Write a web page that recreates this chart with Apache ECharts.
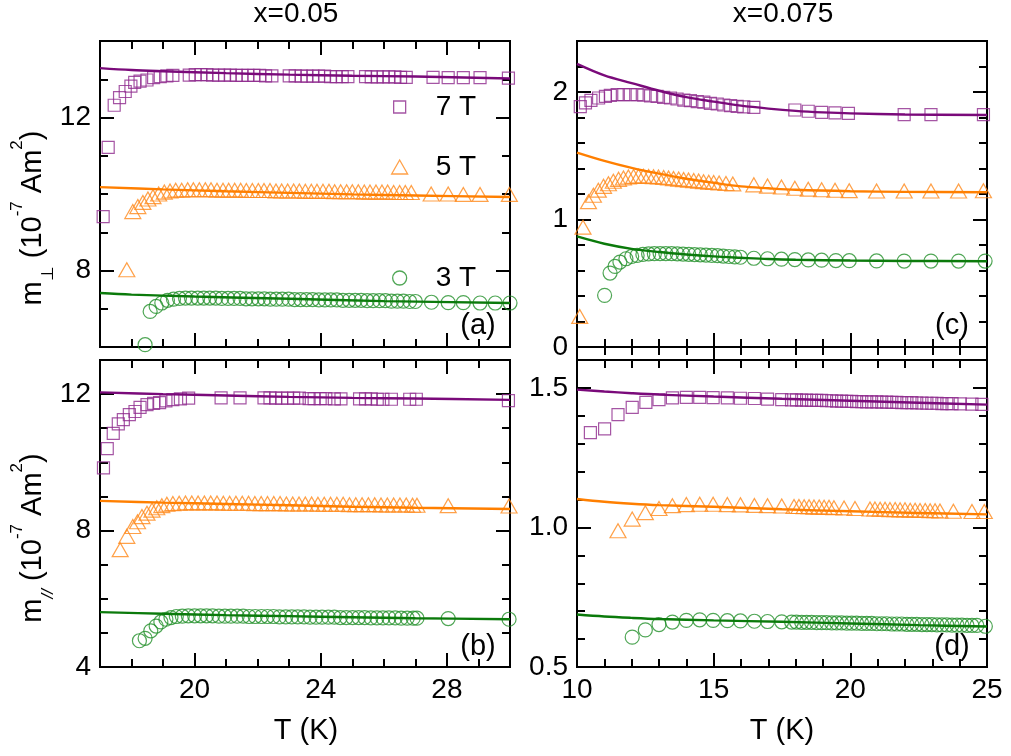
<!DOCTYPE html>
<html><head><meta charset="utf-8">
<script src="https://cdn.jsdelivr.net/npm/echarts@6/dist/echarts.min.js"></script>
<style>html,body{margin:0;padding:0;background:#fff}#c{width:1011px;height:756px}</style>
</head><body><div id="c"></div>
<script>
// ---------- tick labels ----------
const xTicksAB = [20, 24, 28];
const xTicksCD = [10, 15, 20, 25];
const yTicksA = [8, 12];
const yTicksB = [4, 8, 12];
const yTicksC = [0, 1, 2];
const yTicksD = [0.5, 1.0, 1.5];
const titles = ['x=0.05', 'x=0.075'];
const panelLabels = ['(a)', '(b)', '(c)', '(d)'];
const fieldNames = ['7 T', '5 T', '3 T'];

// ---------- panel (a): m_perp, x=0.05 ----------
const a7 = [[17.10,9.41],[17.26,11.22],[17.45,12.32],[17.62,12.52],[17.80,12.68],[17.98,12.82],[18.10,12.92],[18.27,12.95],[18.49,12.98],[18.70,13.04],[18.91,13.07],[19.12,13.09],[19.31,13.10],
[19.83,13.11],[20.02,13.12],[20.20,13.12],[20.39,13.12],[20.57,13.11],[20.76,13.11],[20.95,13.11],[21.13,13.11],[21.32,13.10],[21.50,13.10],[21.69,13.10],[21.88,13.10],[22.06,13.10],[22.25,13.09],[22.45,13.09],
[23.00,13.09],[23.19,13.09],[23.38,13.08],[23.56,13.08],[23.75,13.08],[23.93,13.08],[24.12,13.08],[24.31,13.07],[24.49,13.07],[24.68,13.07],[24.86,13.07],
[25.42,13.07],[25.60,13.06],[25.79,13.06],[25.98,13.06],[26.16,13.06],[26.35,13.06],[26.53,13.05],[26.71,13.05],
[27.56,13.05],[28.04,13.04],[28.52,13.04],[29.05,13.04],[29.95,13.03]];
const a7fit = [[17,13.29],[18,13.24],[19,13.21],[21,13.16],[23,13.12],[25,13.09],[27,13.07],[30,13.02]];
const a5 = [[17.85,8.02],[18.04,9.54],[18.20,9.67],[18.36,9.78],[18.52,9.87],[18.68,9.93],[18.86,10.00],[19.04,10.05],
[19.22,10.08],[19.40,10.10],[19.59,10.10],[19.78,10.11],[19.96,10.11],[20.15,10.11],[20.34,10.11],[20.52,10.11],[20.71,10.10],[20.90,10.10],[21.08,10.10],[21.27,10.10],[21.46,10.10],[21.64,10.09],[21.83,10.09],[22.02,10.09],[22.20,10.09],[22.39,10.09],[22.58,10.08],[22.76,10.08],[22.95,10.08],[23.14,10.08],[23.32,10.08],[23.51,10.07],[23.70,10.07],[23.88,10.07],[24.07,10.07],[24.26,10.07],[24.44,10.06],[24.63,10.06],[24.82,10.06],[25.00,10.06],[25.19,10.06],[25.38,10.05],[25.56,10.05],[25.75,10.05],[25.94,10.05],[26.12,10.05],[26.31,10.04],[26.50,10.04],[26.68,10.04],[26.87,10.04],
[27.50,10.00],[28.04,10.00],[28.52,9.99],[29.05,9.99],[29.98,9.99]];
const a5fit = [[17,10.18],[19,10.12],[21,10.07],[23,10.03],[25,9.99],[27,9.96],[30,9.92]];
const a3 = [[18.43,6.06],[18.59,6.93],[18.78,7.06],[18.96,7.15],[19.14,7.22],[19.33,7.25],
[19.52,7.27],[19.71,7.28],[19.90,7.28],[20.10,7.28],[20.29,7.28],[20.48,7.28],[20.67,7.28],[20.86,7.27],[21.06,7.27],[21.25,7.27],[21.44,7.27],[21.63,7.26],[21.82,7.26],[22.02,7.26],[22.21,7.26],[22.40,7.25],[22.59,7.25],[22.78,7.25],[22.98,7.25],[23.17,7.24],[23.36,7.24],[23.55,7.24],[23.74,7.24],[23.94,7.23],[24.13,7.23],[24.32,7.23],[24.51,7.23],[24.70,7.22],[24.90,7.22],[25.09,7.22],[25.28,7.22],[25.47,7.21],[25.66,7.21],[25.86,7.21],[26.05,7.21],[26.24,7.20],[26.43,7.20],[26.62,7.20],[26.82,7.19],[27.00,7.19],
[27.51,7.17],[28.04,7.16],[28.52,7.16],[29.05,7.15],[29.53,7.15],[30.00,7.15]];
const a3fit = [[17,7.41],[18,7.37],[20,7.32],[23,7.26],[26,7.20],[30,7.15]];

// ---------- panel (b): m_par, x=0.05 ----------
const b7 = [[17.11,9.84],[17.23,10.40],[17.42,10.85],[17.58,11.13],[17.74,11.25],[17.93,11.40],[18.11,11.49],[18.27,11.61],[18.49,11.69],[18.70,11.73],[18.89,11.75],[19.09,11.80],[19.31,11.84],[19.55,11.86],[19.81,11.88],
[20.84,11.89],[21.44,11.89],
[22.20,11.89],[22.39,11.89],[22.57,11.88],[22.76,11.88],[22.95,11.88],[23.14,11.88],[23.32,11.88],
[23.63,11.87],[23.79,11.87],[23.98,11.87],[24.16,11.87],[24.43,11.86],[24.64,11.86],
[25.23,11.86],[25.42,11.86],[25.60,11.86],[25.79,11.85],[25.97,11.85],[26.24,11.85],
[26.82,11.85],[27.03,11.85],[29.95,11.81]];
const b7fit = [[17,12.05],[19,12.00],[21,11.96],[23,11.92],[25,11.89],[27,11.87],[30,11.83]];
const b5 = [[17.64,7.44],[17.85,7.83],[18.04,8.12],[18.19,8.26],[18.33,8.41],[18.49,8.51],[18.65,8.60],[18.80,8.67],[18.96,8.73],[19.12,8.77],
[19.31,8.79],[19.51,8.80],[19.71,8.81],[19.91,8.81],[20.11,8.81],[20.31,8.81],[20.51,8.81],[20.71,8.81],[20.91,8.80],[21.11,8.80],[21.31,8.80],[21.51,8.80],[21.71,8.80],[21.91,8.79],[22.11,8.79],[22.31,8.79],[22.51,8.79],[22.71,8.79],[22.91,8.78],[23.11,8.78],[23.31,8.78],[23.51,8.78],[23.71,8.78],[23.91,8.77],[24.11,8.77],[24.31,8.77],[24.51,8.77],[24.71,8.77],[24.91,8.76],[25.11,8.76],[25.31,8.76],[25.51,8.76],[25.71,8.76],[25.91,8.75],[26.11,8.75],[26.31,8.75],[26.51,8.75],[26.71,8.75],[26.91,8.74],[27.05,8.74],
[28.04,8.73],[29.97,8.72]];
const b5fit = [[17,8.87],[19,8.82],[21,8.78],[23,8.74],[25,8.70],[27,8.67],[30,8.63]];
const b3 = [[18.25,4.77],[18.43,4.84],[18.61,5.06],[18.78,5.20],[18.93,5.32],[19.09,5.40],[19.25,5.45],[19.42,5.48],
[19.61,5.49],[19.80,5.50],[20.00,5.50],[20.19,5.50],[20.38,5.50],[20.57,5.50],[20.77,5.49],[20.96,5.49],[21.15,5.49],[21.35,5.49],[21.54,5.49],[21.73,5.48],[21.92,5.48],[22.12,5.48],[22.31,5.48],[22.50,5.48],[22.69,5.47],[22.89,5.47],[23.08,5.47],[23.27,5.47],[23.47,5.47],[23.66,5.46],[23.85,5.46],[24.04,5.46],[24.24,5.46],[24.43,5.46],[24.62,5.45],[24.81,5.45],[25.01,5.45],[25.20,5.45],[25.39,5.45],[25.59,5.44],[25.78,5.44],[25.97,5.44],[26.16,5.44],[26.36,5.44],[26.55,5.43],[26.74,5.43],[26.93,5.43],[27.05,5.43],
[28.04,5.42],[29.97,5.40]];
const b3fit = [[17,5.61],[19,5.56],[21,5.52],[23,5.49],[25,5.46],[27,5.43],[30,5.40]];

// ---------- panel (c): m_perp, x=0.075 ----------
const c7 = [[10.12,1.885],[10.31,1.915],[10.51,1.935],[10.79,1.953],[11.04,1.966],[11.22,1.973],[11.47,1.979],[11.71,1.980],[11.95,1.980],[12.20,1.980],[12.44,1.976],[12.69,1.970],[12.93,1.966],[13.17,1.958],[13.42,1.953],[13.66,1.945],[13.91,1.937],[14.15,1.932],[14.40,1.924],[14.64,1.920],[14.88,1.911],[15.13,1.906],[15.37,1.898],[15.62,1.893],[15.86,1.888],[16.10,1.884],[16.47,1.880],
[17.97,1.859],[18.46,1.849],[18.95,1.840],[19.44,1.836],[19.93,1.833],[21.97,1.822],[22.95,1.822],[24.87,1.822]];
const c7fit = [[10,2.22],[11,2.13],[12,2.07],[13,2.01],[14,1.96],[15,1.925],[16,1.893],[17,1.87],[18,1.852],[19,1.84],[20,1.832],[22,1.824],[25,1.82]];
const c5 = [[10.10,0.24],[10.22,0.94],[10.42,1.14],[10.60,1.19],[10.78,1.23],[10.97,1.26],[11.15,1.28],[11.33,1.30],[11.52,1.315],[11.70,1.325],[11.88,1.333],[12.07,1.338],[12.25,1.340],[12.43,1.340],[12.62,1.338],[12.80,1.336],[12.98,1.333],[13.17,1.329],[13.35,1.325],[13.53,1.321],[13.72,1.317],[13.90,1.313],[14.08,1.309],[14.27,1.305],[14.45,1.301],[14.63,1.297],[14.82,1.293],[15.00,1.290],[15.20,1.286],[15.45,1.282],[15.70,1.279],
[16.47,1.272],[16.97,1.262],[17.48,1.255],[17.97,1.245],[18.46,1.238],[18.95,1.233],[19.44,1.229],[19.96,1.226],[20.96,1.224],[21.97,1.224],[22.95,1.224],[23.96,1.224],[24.87,1.225]];
const c5fit = [[10,1.525],[11,1.46],[12,1.405],[13,1.36],[14,1.32],[15,1.288],[16,1.26],[17,1.245],[18,1.233],[20,1.222],[22,1.217],[25,1.214]];
const c3 = [[11.01,0.405],[11.21,0.580],[11.39,0.632],[11.57,0.666],[11.79,0.692],[12.00,0.710],[12.20,0.718],[12.41,0.726],[12.62,0.730],[12.83,0.732],[13.04,0.733],[13.25,0.733],[13.46,0.732],[13.67,0.731],[13.88,0.729],[14.09,0.727],[14.30,0.725],[14.51,0.723],[14.72,0.721],[14.93,0.718],[15.14,0.716],[15.35,0.713],[15.56,0.710],[15.77,0.707],[15.98,0.704],
[16.47,0.696],[16.97,0.692],[17.48,0.689],[17.97,0.686],[18.46,0.683],[18.95,0.681],[19.47,0.678],[19.96,0.677],[20.96,0.675],[21.97,0.674],[22.95,0.674],[23.96,0.674],[24.93,0.674]];
const c3fit = [[10,0.867],[11,0.81],[12,0.77],[13,0.745],[14,0.726],[15,0.711],[16,0.70],[17,0.69],[18,0.684],[20,0.678],[22,0.675],[25,0.673]];

// ---------- panel (d): m_par, x=0.075 ----------
const d7 = [[10.49,1.340],[11.01,1.353],[11.50,1.404],[12.02,1.430],[12.52,1.448],[13.00,1.458],[13.49,1.464],[14.00,1.466],[14.49,1.466],[14.98,1.465],[15.50,1.464],[15.98,1.463],[16.49,1.462],[16.97,1.460],[17.49,1.458],
[17.85,1.457],[18.03,1.457],[18.22,1.456],[18.40,1.456],[18.58,1.455],[18.77,1.455],[18.95,1.455],[19.13,1.454],[19.32,1.454],[19.50,1.453],[19.68,1.453],[19.87,1.452],[20.05,1.452],[20.23,1.451],[20.42,1.451],[20.60,1.450],[20.78,1.450],[20.97,1.450],[21.15,1.449],[21.33,1.449],[21.52,1.448],[21.70,1.448],[21.88,1.447],[22.07,1.447],[22.25,1.447],[22.43,1.446],[22.62,1.446],[22.80,1.445],[22.98,1.445],[23.17,1.445],[23.35,1.444],[23.53,1.444],[23.72,1.444],
[24.02,1.443],[24.45,1.442],[24.81,1.441]];
const d7fit = [[10,1.494],[11,1.487],[12,1.481],[13,1.476],[15,1.469],[17.5,1.461],[20,1.454],[22.5,1.447],[25,1.440]];
const d5 = [[11.50,0.988],[12.02,1.030],[12.50,1.053],[13.00,1.068],[13.49,1.078],[14.00,1.082],[14.49,1.083],[14.98,1.083],[15.50,1.082],[15.98,1.081],[16.49,1.079],[16.97,1.078],[17.49,1.077],
[17.94,1.075],[18.12,1.075],[18.31,1.074],[18.49,1.074],[18.67,1.073],[18.86,1.073],[19.04,1.072],[19.22,1.072],[19.40,1.071],
[19.77,1.070],[20.17,1.068],
[20.72,1.066],[20.90,1.066],[21.09,1.065],[21.27,1.065],[21.45,1.064],[21.64,1.064],[21.82,1.063],[22.00,1.063],[22.19,1.062],[22.37,1.062],[22.55,1.061],[22.74,1.061],[22.92,1.060],[23.10,1.060],[23.28,1.059],
[23.77,1.058],[24.45,1.057],[24.90,1.057]];
const d5fit = [[10,1.102],[11,1.092],[12,1.085],[13,1.080],[15,1.074],[17.5,1.065],[20,1.058],[22.5,1.052],[25,1.047]];
const d3 = [[12.02,0.607],[12.50,0.633],[13.00,0.652],[13.49,0.661],[14.00,0.667],[14.49,0.669],[14.98,0.667],[15.50,0.666],[15.98,0.665],[16.49,0.664],[16.97,0.663],[17.49,0.662],
[17.85,0.661],[18.03,0.661],[18.22,0.660],[18.40,0.660],[18.58,0.660],[18.77,0.659],[18.95,0.659],[19.13,0.659],[19.32,0.658],[19.50,0.658],[19.68,0.658],[19.87,0.657],[20.05,0.657],[20.23,0.657],[20.42,0.656],[20.60,0.656],[20.78,0.656],[20.97,0.655],[21.15,0.655],[21.33,0.655],[21.52,0.654],[21.70,0.654],[21.88,0.654],[22.07,0.653],[22.25,0.653],[22.43,0.653],[22.62,0.652],[22.80,0.652],[22.98,0.652],[23.17,0.651],[23.35,0.651],[23.53,0.651],[23.72,0.650],[23.90,0.650],[24.08,0.650],[24.27,0.649],[24.45,0.649],[24.63,0.649],
[24.94,0.646]];
const d3fit = [[10,0.688],[11,0.681],[12,0.676],[13,0.672],[15,0.667],[17.5,0.662],[20,0.656],[22.5,0.650],[25,0.645]];

// ---------- styling ----------
const FONT = '"Liberation Sans", Arial, Helvetica, sans-serif';
const markerCol = ['#8f2b8d', '#ff8a1c', '#23902a'];
const lineCol = ['#7a0a7a', '#ff7f00', '#0b7a0b'];
const symbols = ['rect', 'triangle', 'circle'];
const symSizes = [[12, 12], [16, 14], [14, 14]];

const panels = [
  {grid: {left: 100, top: 41, width: 410, height: 306}, x: [17, 30, 1, xTicksAB, false, v => String(v)], y: [6, 14, 1, yTicksA, v => String(v)], data: [a7, a5, a3], fits: [a7fit, a5fit, a3fit]},
  {grid: {left: 100, top: 360, width: 410, height: 307}, x: [17, 30, 1, xTicksAB, true, v => String(v)], y: [4, 13, 1, yTicksB, v => String(v)], data: [b7, b5, b3], fits: [b7fit, b5fit, b3fit]},
  {grid: {left: 577, top: 41, width: 410, height: 306}, x: [10, 25, 1, xTicksCD, false, v => String(v)], y: [0, 2.4, 0.2, yTicksC, v => String(Math.round(v))], data: [c7, c5, c3], fits: [c7fit, c5fit, c3fit]},
  {grid: {left: 577, top: 360, width: 410, height: 307}, x: [10, 25, 1, xTicksCD, true, v => String(v)], y: [0.5, 1.6, 0.1, yTicksD, v => v.toFixed(1)], data: [d7, d5, d3], fits: [d7fit, d5fit, d3fit]}
];

const tickLine = {color: '#000', width: 2};
function isMajor(v, majors) { return majors.some(m => Math.abs(m - v) < 1e-6); }
function axisSet(g, min, max, step, majors, showLabels, fmt, positions) {
  const base = {type: 'value', gridIndex: g, min, max, interval: step, splitLine: {show: false}, axisLine: {show: false}};
  const out = [];
  positions.forEach((pos, k) => {
    out.push(Object.assign({}, base, {
      position: pos,
      axisTick: {show: true, inside: true, length: 8, lineStyle: tickLine},
      axisLabel: (k === 0 && showLabels) ? {
        show: true, customValues: majors, color: '#000', fontSize: 28, fontFamily: FONT, margin: 9,
        formatter: v => isMajor(v, majors) ? fmt(v) : ''
      } : {show: false}
    }));
    out.push(Object.assign({}, base, {
      position: pos,
      axisTick: {show: true, inside: true, length: 14, customValues: majors, lineStyle: tickLine},
      axisLabel: {show: false}
    }));
  });
  return out;
}

const grids = [], xAxes = [], yAxes = [], series = [];
panels.forEach((p, g) => {
  grids.push(Object.assign({show: true, borderColor: '#000', borderWidth: 2, backgroundColor: 'transparent'}, p.grid));
  xAxes.push(...axisSet(g, p.x[0], p.x[1], p.x[2], p.x[3], p.x[4], p.x[5], ['bottom', 'top']));
  yAxes.push(...axisSet(g, p.y[0], p.y[1], p.y[2], p.y[3], true, p.y[4], ['left', 'right']));
  for (let f = 0; f < 3; f++) {
    series.push({
      type: 'scatter', name: fieldNames[f], xAxisIndex: 4 * g, yAxisIndex: 4 * g,
      data: p.data[f], symbol: symbols[f], symbolSize: symSizes[f],
      itemStyle: {color: 'rgba(255,255,255,0)', borderColor: markerCol[f], borderWidth: 1.2},
      emphasis: {disabled: true}, z: 2, animation: false
    });
    series.push({
      type: 'line', name: fieldNames[f] + ' fit', xAxisIndex: 4 * g, yAxisIndex: 4 * g,
      data: p.fits[f], showSymbol: false, smooth: 0.35,
      lineStyle: {color: lineCol[f], width: 2.4}, emphasis: {disabled: true}, z: 3, animation: false, silent: true
    });
  }
});

const legendTops = [92, 152, 263];
const legends = fieldNames.map((n, f) => ({
  left: 399 - symSizes[f][0] / 2, top: legendTops[f], padding: 0, selectedMode: false,
  itemWidth: symSizes[f][0], itemHeight: symSizes[f][1],
  data: [{name: n, icon: symbols[f], itemStyle: {color: 'rgba(255,255,255,0)', borderColor: markerCol[f], borderWidth: 1.3}}],
  textStyle: {fontSize: 28, fontFamily: FONT, color: '#000', lineHeight: 30, padding: [0, 0, 0, 31 - symSizes[f][0] / 2 - 5 + 5]}
}));

function txt(x, y, text, size) {
  return {type: 'text', x, y, silent: true, style: {text, fill: '#000', font: size + 'px ' + FONT, align: 'center', verticalAlign: 'middle', textAlign: 'center', textVerticalAlign: 'middle'}};
}
const yNameRich = {
  m: {fontSize: 29, fontFamily: FONT, fill: '#000', lineHeight: 48, verticalAlign: 'middle'},
  sup: {fontSize: 17, fontFamily: FONT, fill: '#000', lineHeight: 18, verticalAlign: 'top'},
  sub: {fontSize: 17, fontFamily: FONT, fill: '#000', lineHeight: 18, verticalAlign: 'bottom'},
  subi: {fontSize: 17, fontFamily: FONT, fontStyle: 'italic', fill: '#000', lineHeight: 18, verticalAlign: 'bottom'}
};
function yName(x, y, subTok) {
  return {type: 'text', x, y, rotation: Math.PI / 2, silent: true,
    style: {text: '{m|m}' + subTok + '{m| (10}{sup|-7}{m| Am}{sup|2}{m|)}', rich: yNameRich,
      align: 'center', verticalAlign: 'middle', textAlign: 'center', textVerticalAlign: 'middle', fill: '#000', font: '29px ' + FONT}};
}

const graphics = [
  txt(296, 14, titles[0], 28), txt(783, 14, titles[1], 28),
  txt(306, 731, 'T (K)', 29), txt(782, 731, 'T (K)', 29),
  txt(478, 326, panelLabels[0], 29), txt(478, 647, panelLabels[1], 29),
  txt(952, 326, panelLabels[2], 29), txt(952, 647, panelLabels[3], 29),
  yName(33, 218, '{sub|⊥}'), yName(33, 538, '{subi|//}')
];

const chart = echarts.init(document.getElementById('c'), null, {renderer: 'canvas'});
chart.setOption({
  backgroundColor: '#fff', animation: false,
  grid: grids, xAxis: xAxes, yAxis: yAxes, series,
  legend: legends, graphic: graphics
});
</script>
</body></html>
